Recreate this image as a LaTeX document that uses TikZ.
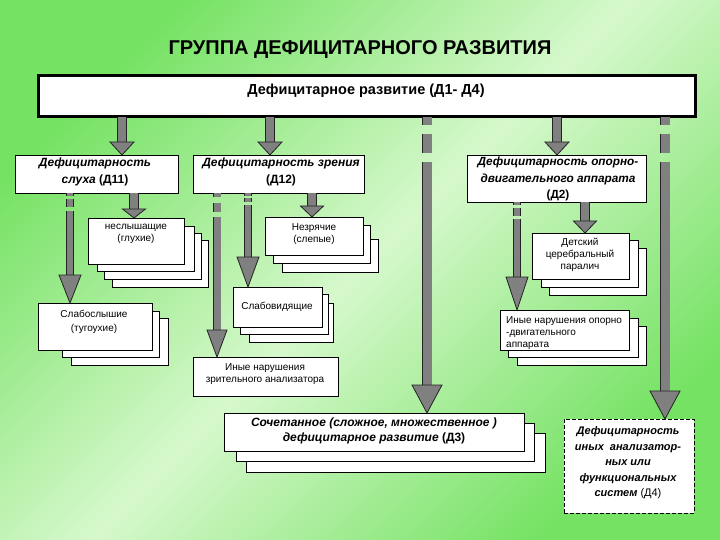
\documentclass[tikz,border=0pt]{standalone}
\usepackage{fontspec}
\setmainfont{Liberation Sans}
\usetikzlibrary{calc}
\definecolor{bgA}{RGB}{118,226,100}
\definecolor{bgB}{RGB}{214,248,204}
\definecolor{stemc}{RGB}{128,128,128}
\definecolor{edgec}{RGB}{35,35,35}
\tikzset{
  bx/.style={draw=black, fill=white, line width=0.9pt, inner sep=0pt, outer sep=0pt, rectangle},
  mainbx/.style={bx, line width=3pt},
  dashbx/.style={bx, dashed, dash pattern=on 4pt off 2pt},
  smalltxt/.style={inner sep=0pt, align=center, font=\fontsize{10}{12}\selectfont},
  bigtxt/.style={inner sep=0pt, align=center, font=\fontsize{12}{16.5}\selectfont\bfseries\itshape},
  ttl/.style={inner sep=0pt, font=\fontsize{20}{22}\selectfont\bfseries},
}
% #1 style, #2 name, #3 x1, #4 y1, #5 x2, #6 y2
\newcommand\rectnode[6]{%
  \node[#1, minimum width={(#5-#3)*1pt}, minimum height={(#6-#4)*1pt}] (#2) at ({(#3+#5)/2},{(#4+#6)/2}) {};}
% #1 x coordinate, #2 from, #3 to, #4 stem width, #5 head width, #6 head length, #7 dash style
\newcommand\conn[7]{%
  \draw[line width=0.8pt, draw=edgec, double=stemc, double distance=#4pt, #7, shorten >=#6pt-1pt]
    (#1 |- #2.south) -- (#1 |- #3.north);
  \draw[fill=stemc, draw=edgec, line width=0.8pt, line join=miter]
    ($(#1 |- #3.north)+(-#5/2,-#6)$) -- ($(#1 |- #3.north)+(#5/2,-#6)$) -- (#1 |- #3.north) -- cycle;}
\begin{document}
\begin{tikzpicture}[x=1pt,y=-1pt]
\useasboundingbox (0,0) rectangle (720,540);
\shade[top color=bgA, bottom color=bgA, middle color=bgB, shading angle=45] (0,0) rectangle (720,540);

\node[ttl] (title) at (360,50) {ГРУППА ДЕФИЦИТАРНОГО РАЗВИТИЯ};

\rectnode{mainbx}{main}{38}{76}{695}{117}
\node[inner sep=0pt, font=\fontsize{14.5}{16}\selectfont\bfseries] (tmain) at (366,91) {Дефицитарное развитие (Д1- Д4)};

% level 1
\rectnode{bx}{d11}{15}{155}{178}{193}
\node[bigtxt] (t11) at (95,172) {Дефицитарность\\слуха \textup{(Д11)}};
\rectnode{bx}{d12}{193}{155}{364}{193}
\node[bigtxt] (t12) at (281,172) {Дефицитарность зрения\\\textup{(Д12)}};
\rectnode{bx}{d2}{467}{155}{646}{202}
\node[bigtxt, font=\fontsize{11.8}{16.5}\selectfont\bfseries\itshape] (t2) at (558,179) {Дефицитарность опорно-\\двигательного аппарата\\\textup{(Д2)}};

% неслышащие
\rectnode{bx}{nes4}{112}{240}{208}{287}
\rectnode{bx}{nes3}{104}{233}{201}{279}
\rectnode{bx}{nes2}{97}{226}{194}{271}
\rectnode{bx}{nes}{88}{218}{184}{264}
\node[smalltxt] (tnes) at (136,234) {неслышащие\\(глухие)};

% незрячие
\rectnode{bx}{nez3}{282}{239}{378}{272}
\rectnode{bx}{nez2}{273}{225}{370}{263}
\rectnode{bx}{nez}{265}{217}{363}{255}
\node[smalltxt] (tnez) at (314,234) {Незрячие\\(слепые)};

% слабослышие
\rectnode{bx}{sls3}{71}{318}{168}{365}
\rectnode{bx}{sls2}{62}{311}{159}{357}
\rectnode{bx}{sls}{38}{303}{152}{350}
\node[smalltxt, font=\fontsize{10}{14}\selectfont] (tsls) at (94,322) {Слабослышие\\(тугоухие)};

% слабовидящие
\rectnode{bx}{slv3}{249}{303}{333}{342}
\rectnode{bx}{slv2}{240}{294}{328}{334}
\rectnode{bx}{slv}{233}{287}{322}{327}
\node[smalltxt] (tslv) at (277,307) {Слабовидящие};

% иные нарушения зрительного
\rectnode{bx}{inz}{193}{357}{338}{396}
\node[smalltxt] (tinz) at (265,374) {Иные нарушения\\зрительного анализатора};

% детский
\rectnode{bx}{det3}{549}{248}{646}{295}
\rectnode{bx}{det2}{541}{240}{638}{287}
\rectnode{bx}{det}{532}{233}{629}{279}
\node[smalltxt] (tdet) at (580,255) {Детский\\церебральный\\паралич};

% иные нарушения опорно
\rectnode{bx}{iod3}{517}{326}{646}{365}
\rectnode{bx}{iod2}{508}{318}{638}{357}
\rectnode{bx}{iod}{500}{310}{629}{350}
\node[smalltxt, align=left, anchor=west] (tiod) at (506,333) {Иные нарушения опорно\\-двигательного\\аппарата};

% Д3
\rectnode{bx}{d33}{246}{433}{545}{472}
\rectnode{bx}{d32}{236}{423}{534}{461}
\rectnode{bx}{d3}{224}{413}{524}{451}
\node[bigtxt, font=\fontsize{12}{15}\selectfont\bfseries\itshape] (t3) at (374,431) {Сочетанное (сложное, множественное )\\дефицитарное развитие \textup{(Д3)}};

% Д4
\rectnode{dashbx}{d4}{564}{419}{694}{513}
\node[bigtxt, font=\fontsize{11}{15.5}\selectfont\bfseries\itshape] (t4) at (628,463) {Дефицитарность\\иных~~анализатор-\\ных или\\функциональных\\систем \textup{\mdseries(Д4)}};

% connector x positions
\coordinate (xa) at (122,0);
\coordinate (xb) at (270,0);
\coordinate (xc) at (427,0);
\coordinate (xd) at (557,0);
\coordinate (xe) at (665,0);
\coordinate (xf) at (70,0);
\coordinate (xg) at (134,0);
\coordinate (xh) at (217,0);
\coordinate (xi) at (248,0);
\coordinate (xj) at (312,0);
\coordinate (xk) at (517,0);
\coordinate (xl) at (585,0);

\conn{xa}{main}{d11}{8}{24}{13}{solid}
\conn{xb}{main}{d12}{8}{24}{13}{solid}
\conn{xc}{main}{d3}{9}{30}{28}{dash pattern=on 8pt off 9pt on 19pt off 9pt on 1000pt off 1pt}
\conn{xd}{main}{d2}{8}{24}{13}{solid}
\conn{xe}{main}{d4}{9}{30}{28}{dash pattern=on 8pt off 9pt on 19pt off 9pt on 1000pt off 1pt}

\conn{xf}{d11}{sls}{6}{22}{28}{dash pattern=on 3pt off 3pt on 8pt off 4pt on 1000pt off 1pt}
\conn{xg}{d11}{nes}{8}{23}{9}{solid}
\conn{xh}{d12}{inz}{7}{20}{27}{dash pattern=on 4pt off 6pt on 9pt off 5pt on 1000pt off 1pt}
\conn{xi}{d12}{slv}{6}{22}{30}{dash pattern=on 3pt off 2pt on 4pt off 3pt on 1000pt off 1pt}
\conn{xj}{d12}{nez}{8}{23}{11}{solid}
\conn{xk}{d2}{iod}{6}{22}{33}{dash pattern=on 3pt off 3pt on 8pt off 3pt on 1000pt off 1pt}
\conn{xl}{d2}{det}{8}{23}{12}{solid}
\end{tikzpicture}
\end{document}
